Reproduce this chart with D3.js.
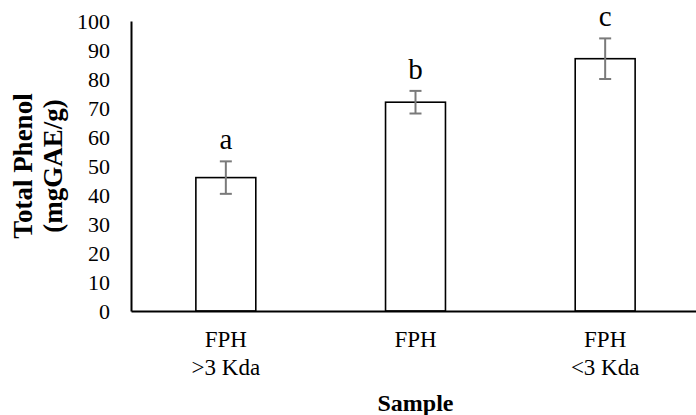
<!DOCTYPE html>
<html>
<head>
<meta charset="utf-8">
<script src="https://cdn.jsdelivr.net/npm/d3@7"></script>
<style>
  html, body { margin: 0; padding: 0; background: #fff; }
  svg { display: block; }
  text { font-family: "Liberation Serif", "Times New Roman", serif; fill: #000; }
</style>
</head>
<body>
<svg id="chart" width="696" height="415"></svg>
<script>
// ---- data ----
const categories = ["FPH\n>3 Kda", "FPH", "FPH\n<3 Kda"];
const means = [46, 72, 87];
const errors = [5.6, 3.9, 7.0];
const letters = ["a", "b", "c"];
const yTicks = [0, 10, 20, 30, 40, 50, 60, 70, 80, 90, 100];
const yTitleLines = ["Total Phenol", "(mgGAE/g)"];
const xTitle = "Sample";

// ---- layout ----
const W = 696, H = 415;
const mLeft = 131, mRight = 700, mTop = 21, mBottom = 311;
const svg = d3.select("#chart");

const x = d3.scaleBand()
  .domain(categories)
  .range([mLeft, mRight])
  .paddingInner(0.684)
  .paddingOuter(0.342);

const y = d3.scaleLinear().domain([0, 100]).range([mBottom, mTop]);

// bars
svg.append("g").selectAll("rect")
  .data(categories)
  .join("rect")
  .attr("x", d => x(d))
  .attr("y", (d, i) => y(means[i]))
  .attr("width", x.bandwidth())
  .attr("height", (d, i) => y(0) - y(means[i]))
  .attr("fill", "#fff")
  .attr("stroke", "#000")
  .attr("stroke-width", 1.6);

// error bars
const eb = svg.append("g").attr("stroke", "#7a7a7a").attr("stroke-width", 2);
categories.forEach((c, i) => {
  const cx = x(c) + x.bandwidth() / 2;
  const hi = y(means[i] + errors[i]), lo = y(means[i] - errors[i]);
  eb.append("line").attr("x1", cx).attr("x2", cx).attr("y1", hi).attr("y2", lo);
  eb.append("line").attr("x1", cx - 6).attr("x2", cx + 6).attr("y1", hi).attr("y2", hi);
  eb.append("line").attr("x1", cx - 6).attr("x2", cx + 6).attr("y1", lo).attr("y2", lo);
});

// significance letters
svg.append("g").selectAll("text")
  .data(categories)
  .join("text")
  .attr("x", d => x(d) + x.bandwidth() / 2)
  .attr("y", (d, i) => y(means[i] + errors[i]) - 12)
  .attr("text-anchor", "middle")
  .style("font-size", "29px")
  .text((d, i) => letters[i]);

// y axis
const yAxis = svg.append("g")
  .attr("transform", `translate(${mLeft},0)`)
  .call(d3.axisLeft(y).tickValues(yTicks).tickSize(0).tickPadding(21));
yAxis.select(".domain").attr("stroke", "#000").attr("stroke-width", 2);
yAxis.selectAll("text")
  .style("font-family", '"Liberation Serif", "Times New Roman", serif')
  .style("font-size", "22px")
  .attr("fill", "#000");

// x axis
const xAxis = svg.append("g")
  .attr("transform", `translate(0,${mBottom})`)
  .call(d3.axisBottom(x).tickSize(0).tickSizeOuter(0).tickFormat(""));
xAxis.select(".domain").attr("stroke", "#000").attr("stroke-width", 2.2);

// x tick labels (multi-line)
const xl = svg.append("g").selectAll("text")
  .data(categories)
  .join("text")
  .attr("text-anchor", "middle")
  .style("font-size", "23px");
xl.each(function(d) {
  const t = d3.select(this);
  const cx = x(d) + x.bandwidth() / 2;
  d.split("\n").forEach((line, k) => {
    t.append("tspan").attr("x", cx).attr("y", 347 + k * 28).text(line);
  });
});

// axis titles
svg.append("text")
  .attr("x", (mLeft + mRight) / 2)
  .attr("y", 411)
  .attr("text-anchor", "middle")
  .style("font-size", "24px")
  .style("font-weight", "bold")
  .text(xTitle);

const yt = svg.append("text")
  .attr("transform", `translate(0,${(mTop + mBottom) / 2}) rotate(-90)`)
  .attr("text-anchor", "middle")
  .style("font-size", "27px")
  .style("font-weight", "bold");
yTitleLines.forEach((line, k) => {
  yt.append("tspan").attr("x", 0).attr("y", 32 + k * 30).text(line);
});
</script>
</body>
</html>
